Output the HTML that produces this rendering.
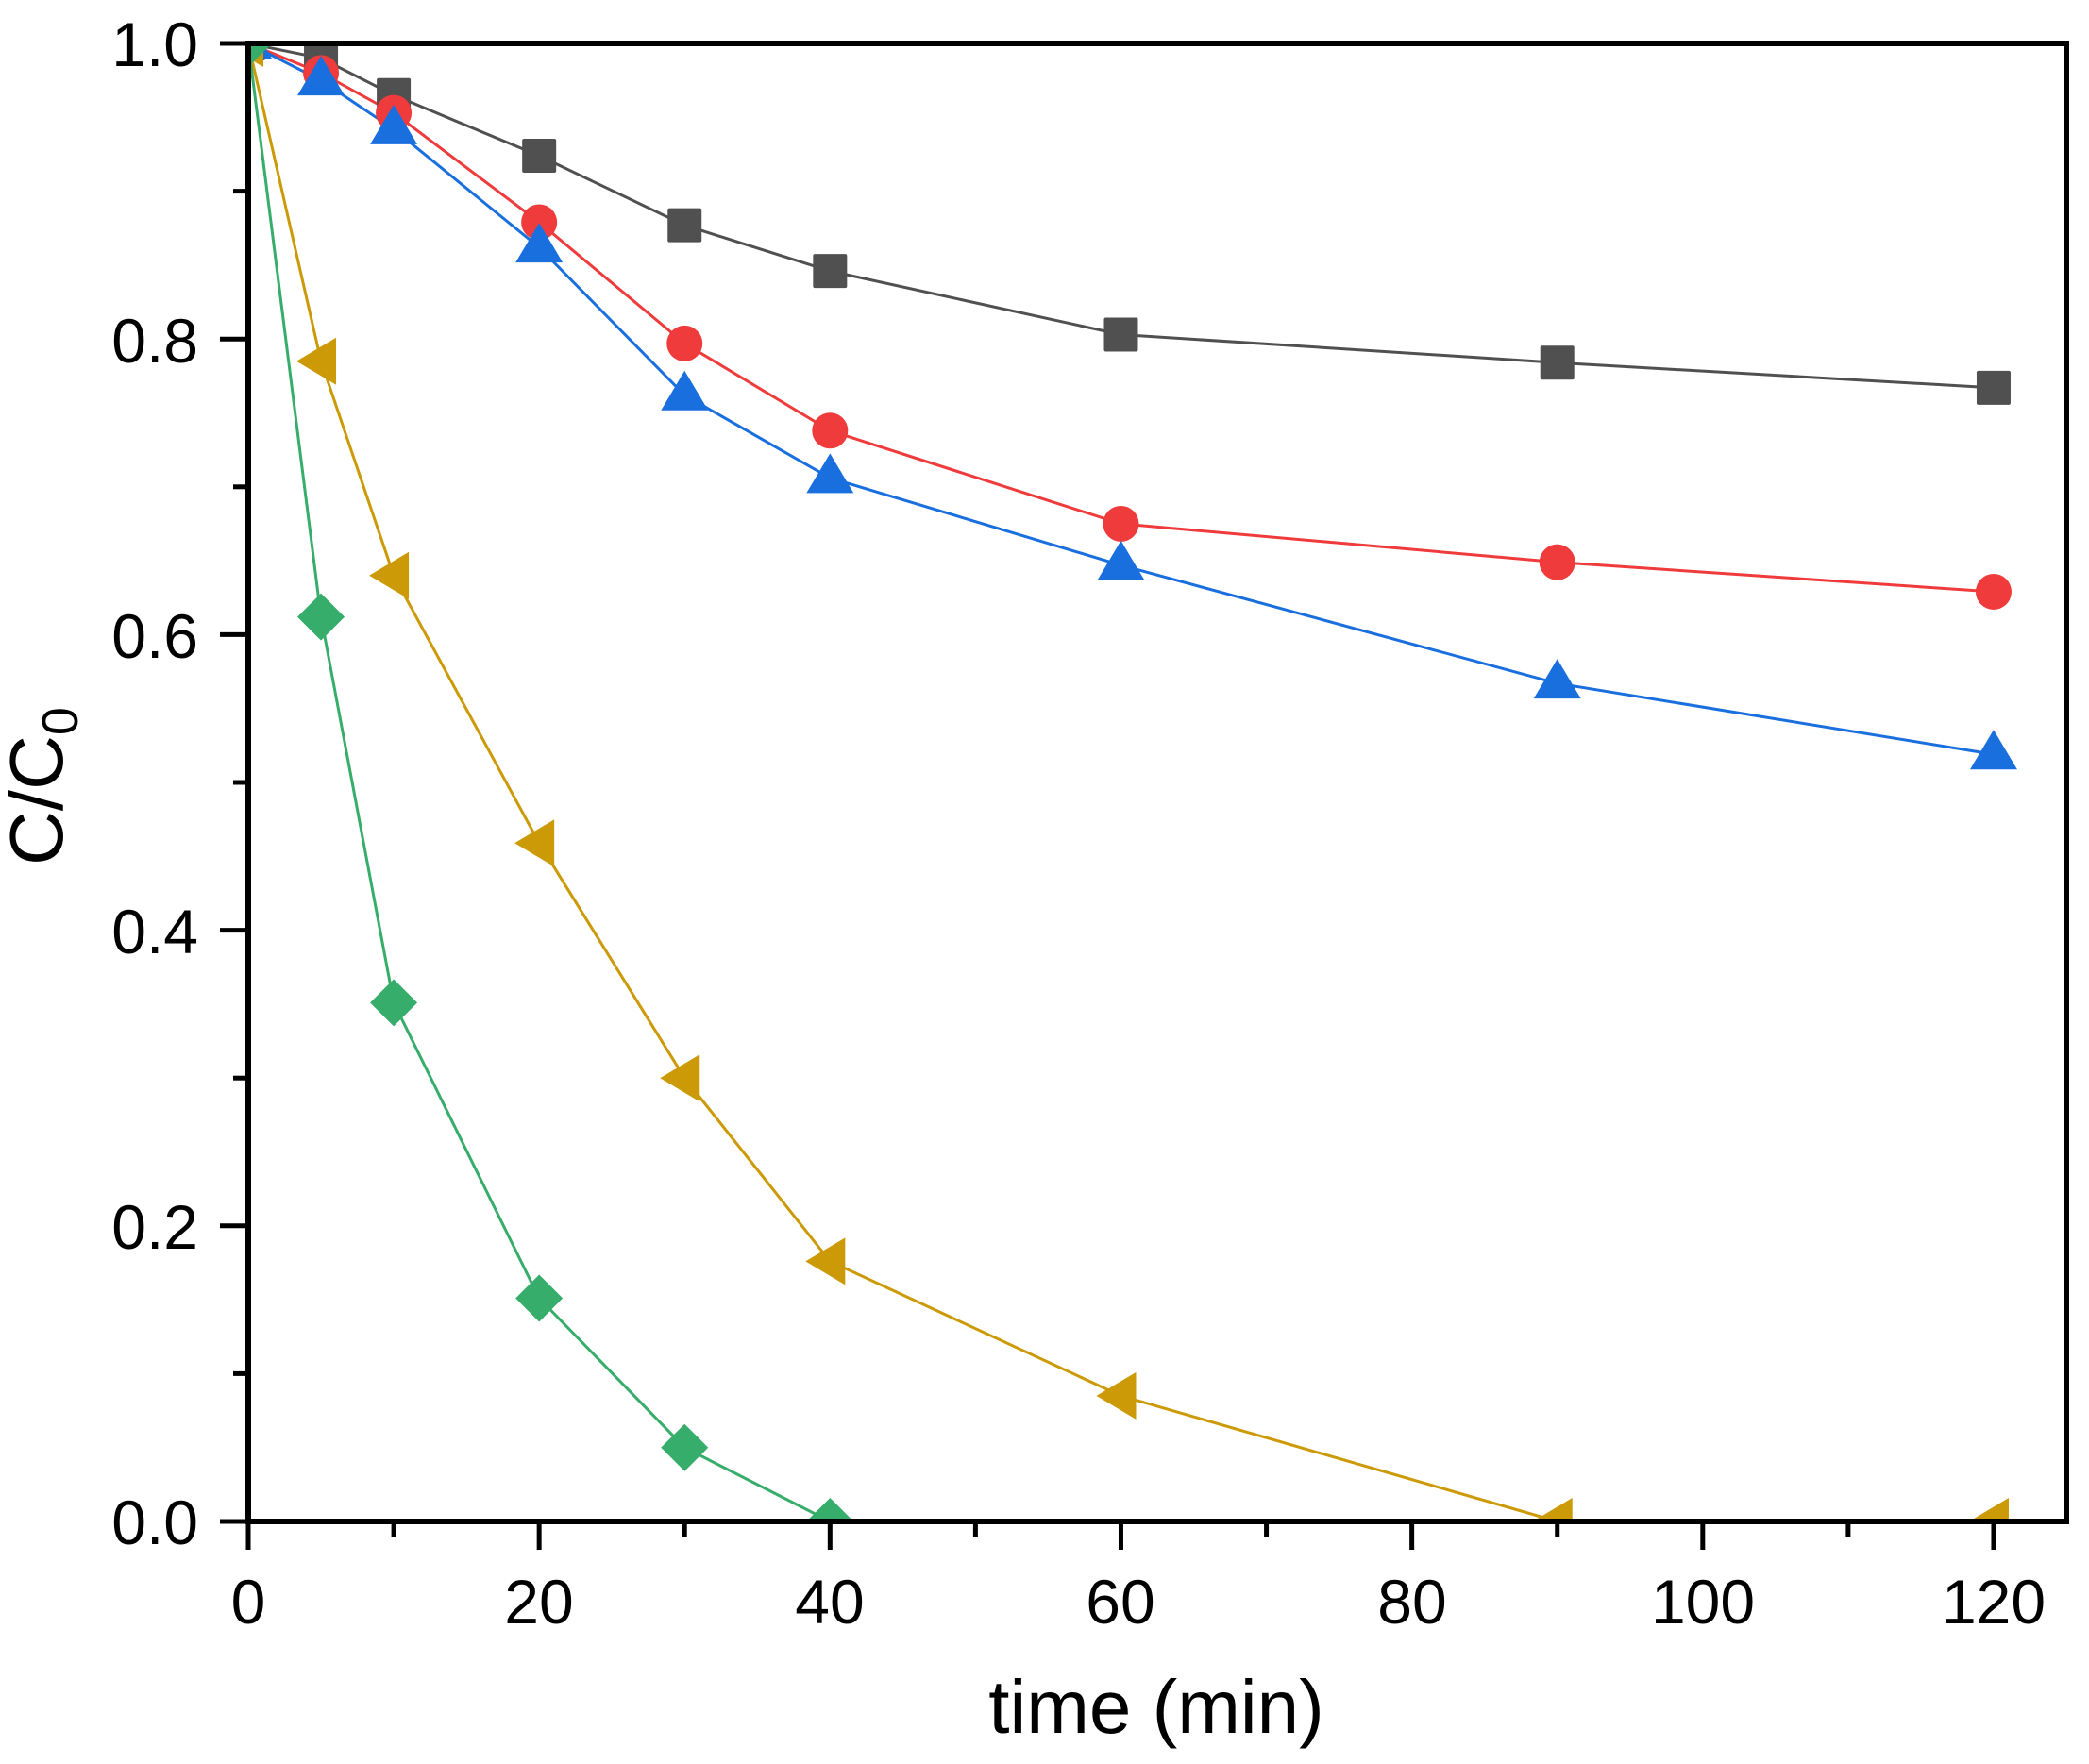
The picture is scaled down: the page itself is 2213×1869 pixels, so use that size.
<!DOCTYPE html>
<html><head><meta charset="utf-8"><style>
html,body{margin:0;padding:0;background:#fff;}
svg{display:block;font-family:"Liberation Sans",Arial,sans-serif;}
</style></head><body>
<svg id="s" width="2213" height="1869" viewBox="0 0 2213 1869" xmlns="http://www.w3.org/2000/svg">
<defs><clipPath id="c"><rect x="263" y="46" width="1926" height="1566"/></clipPath></defs>
<g id="data" clip-path="url(#c)"></g>
<rect x="263" y="46" width="1926" height="1566" fill="none" stroke="#000" stroke-width="6"/>
<g id="ticks" stroke="#000" stroke-width="5"></g>
<g font-size="66" fill="#000" text-anchor="end">
<text x="210" y="1636">0.0</text>
<text x="210" y="1323">0.2</text>
<text x="210" y="1010">0.4</text>
<text x="210" y="697">0.6</text>
<text x="210" y="384">0.8</text>
<text x="210" y="70">1.0</text>
</g>
<g font-size="66" fill="#000" text-anchor="middle">
<text x="263" y="1720">0</text>
<text x="571" y="1720">20</text>
<text x="879" y="1720">40</text>
<text x="1187" y="1720">60</text>
<text x="1496" y="1720">80</text>
<text x="1804" y="1720">100</text>
<text x="2112" y="1720">120</text>
</g>
<text x="1225" y="1836" font-size="80" text-anchor="middle">time (min)</text>
<text transform="translate(66,833) rotate(-90)" font-size="80" text-anchor="middle">C/C<tspan font-size="54" dy="16">0</tspan></text>
</svg>
<script>
var X=t=>263+t*15.408, Y=v=>1612-v*1566;
var ns="http://www.w3.org/2000/svg";
function el(p,n,a){var e=document.createElementNS(ns,n);for(var k in a)e.setAttribute(k,a[k]);p.appendChild(e);return e;}
var tk=document.getElementById('ticks');
for(var t=0;t<=120;t+=10){var L=(t%20==0)?30:16;el(tk,'line',{x1:X(t),x2:X(t),y1:1612,y2:1612+L});}
for(var v=0;v<=1.001;v+=0.1){var maj=Math.round(v*10)%2==0;el(tk,'line',{x1:263,x2:263-(maj?30:16),y1:Y(v),y2:Y(v)});}
var T=[0,5,10,20,30,40,60,90,120];
var S=[
{c:'#505050',m:'sq',d:[1,0.99,0.965,0.924,0.877,0.846,0.803,0.784,0.767]},
{c:'#ef3b3b',m:'ci',d:[1,0.98,0.953,0.879,0.797,0.738,0.675,0.649,0.629]},
{c:'#1a6fdf',m:'tu',d:[1,0.975,0.942,0.862,0.762,0.706,0.647,0.567,0.519]},
{c:'#cc9a06',m:'tl',d:[1,0.785,0.64,0.459,0.3,0.176,0.085,0.0,0.0]},
{c:'#37ad6b',m:'di',d:[1,0.612,0.351,0.151,0.05,0.0]}
];
var g=document.getElementById('data');
S.forEach(function(s){
 var pts=s.d.map((v,i)=>X(T[i])+','+Y(v)).join(' ');
 el(g,'polyline',{points:pts,fill:'none',stroke:s.c,'stroke-width':3});
});
S.forEach(function(s){
 s.d.forEach(function(v,i){var x=X(T[i]),y=Y(v);
  if(s.m=='sq')el(g,'rect',{x:x-18,y:y-18,width:36,height:36,rx:2,fill:s.c});
  else if(s.m=='ci')el(g,'circle',{cx:x,cy:y,r:19,fill:s.c});
  else if(s.m=='tu')el(g,'polygon',{points:(x-25)+','+(y+16)+' '+(x+25)+','+(y+16)+' '+x+','+(y-26),fill:s.c});
  else if(s.m=='tl')el(g,'polygon',{points:(x-26)+','+y+' '+(x+16)+','+(y-25)+' '+(x+16)+','+(y+25),fill:s.c});
  else el(g,'polygon',{points:x+','+(y-25)+' '+(x+25)+','+y+' '+x+','+(y+25)+' '+(x-25)+','+y,fill:s.c});
 });
});
</script>
</body></html>
